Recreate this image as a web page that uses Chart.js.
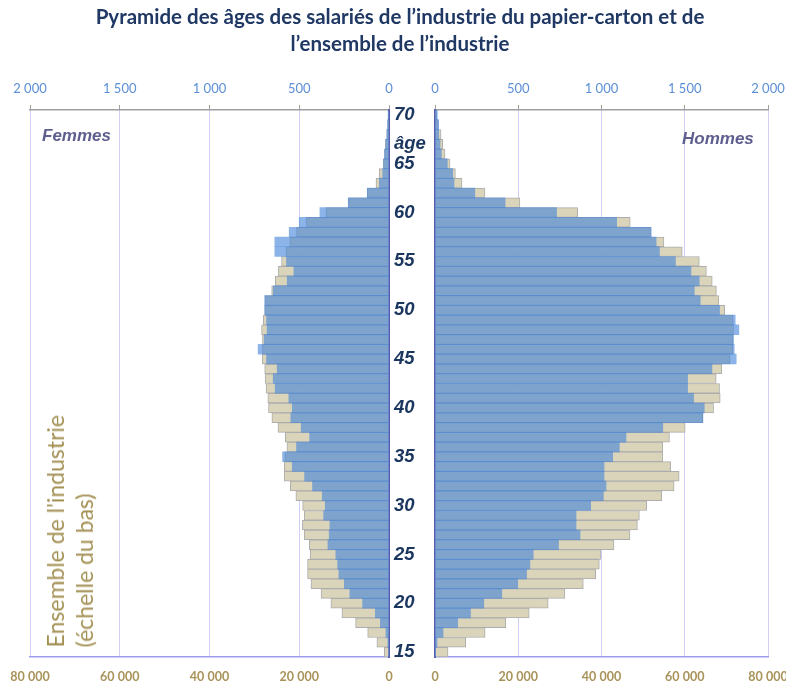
<!DOCTYPE html>
<html><head><meta charset="utf-8">
<script src="https://cdn.jsdelivr.net/npm/chart.js@4.4.1/dist/chart.umd.min.js"></script>
<style>
html,body{margin:0;padding:0;background:#fff;}
#wrap{position:relative;width:786px;height:683px;overflow:hidden;}
#title{position:absolute;left:0;top:3px;width:800px;text-align:center;font:bold 20.5px Lato, sans-serif;color:#1f3864;line-height:27px;z-index:3;}
canvas{position:absolute;top:0;}
#cl{left:0;}
#cr{left:400px;}
.sex{position:absolute;font:italic bold 17px 'Liberation Sans', Arial, sans-serif;color:#5f5f8f;line-height:17px;z-index:3;}
#ens{position:absolute;left:41px;bottom:36px;writing-mode:vertical-rl;transform:rotate(180deg);font:23px Lato, sans-serif;color:#a39053;line-height:29px;white-space:nowrap;z-index:3;}
</style></head>
<body>
<div id="wrap">
<div id="title">Pyramide des âges des salariés de l’industrie du papier-carton et de<br>l’ensemble de l’industrie</div>
<canvas id="cl" width="436" height="683"></canvas>
<canvas id="cr" width="400" height="683"></canvas>
<div class="sex" style="left:42px;top:127px;">Femmes</div>
<div class="sex" style="left:682px;top:130px;">Hommes</div>
<div id="ens">Ensemble de l'industrie<br>(échelle du bas)</div>
</div>
<script>
const ages = [70,69,68,67,66,65,64,63,62,61,60,59,58,57,56,55,54,53,52,51,50,49,48,47,46,45,44,43,42,41,40,39,38,37,36,35,34,33,32,31,30,29,28,27,26,25,24,23,22,21,20,19,18,17,16,15];
const femmesPapier = [5,8,12,18,25,30,35,54,121,227,385,500,556,636,636,571,530,567,645,692,692,682,679,695,729,682,623,645,634,558,539,547,489,442,515,593,539,470,426,372,355,364,329,333,340,296,286,279,249,218,147,76,48,17,6,3];
const femmesIndustrie = [100,300,500,800,1000,1300,2150,2900,4850,9050,14050,18500,20600,22100,22950,23950,24650,25350,26150,27650,27700,28000,28400,28200,28200,28250,27700,27600,27400,27000,26850,26100,24750,23100,22750,23200,23350,23350,22000,20750,19250,18900,19300,18900,17750,17550,18150,18150,17400,15150,12950,10500,7450,4750,2700,1050];
const hommesPapier = [14,22,22,30,38,74,106,114,239,421,730,1091,1298,1328,1348,1444,1537,1587,1557,1593,1709,1803,1825,1793,1797,1809,1663,1517,1517,1553,1617,1609,1368,1147,1107,1067,1015,1015,1027,1011,935,847,847,871,742,590,570,550,497,401,293,213,136,48,12,4];
const hommesIndustrie = [400,800,1440,1840,2400,3600,4900,6500,12000,20400,34300,46900,51900,55000,59400,63500,65200,66600,67600,68200,69600,71600,71700,71600,71500,70900,68900,67560,68360,68520,66920,64300,60100,56330,54720,54720,56650,58660,57450,54480,50870,49100,48630,46860,43010,39880,39480,38600,35630,31210,27200,22630,17010,12040,7380,3130];
const ticksPapier = [0,500,1000,1500,2000];
const ticksIndustrie = [0,20000,40000,60000,80000];
const ageLabelsShown = [70,65,60,55,50,45,40,35,30,25,20,15];
const ageWordAt = 67;

const fmt = v => String(v).replace(/\B(?=(\d{3})+(?!\d))/g, ' ');
const BLUE = 'rgba(70,134,218,0.62)';
const BEIGE = '#d9d4ba';
const BEIGE_BORDER = '#adadad';

function makeChart(id, papier, industrie, left) {
  const ds = [
    {data: papier, xAxisID: 'x2', backgroundColor: BLUE, borderWidth: 0, grouped: false, order: 0,
     barPercentage: 1, categoryPercentage: 1},
    {data: industrie, xAxisID: 'x', backgroundColor: BEIGE, borderColor: BEIGE_BORDER, borderWidth: 1, grouped: false, order: 1,
     barPercentage: 1, categoryPercentage: 1}
  ];
  return new Chart(document.getElementById(id), {
    type: 'bar',
    data: {labels: ages, datasets: ds},
    options: {
      indexAxis: 'y', responsive: false, animation: false,
      layout: {padding: left ? {left: 30, right: 0, top: 70, bottom: 0} : {left: 35, right: 32, top: 70, bottom: 0}},
      plugins: {legend: {display: false}, tooltip: {enabled: false}, title: {display: false}},
      scales: {
        x: {type: 'linear', position: 'bottom', reverse: left, min: 0, max: 80000,
            afterBuildTicks: s => { s.ticks = ticksIndustrie.map(v => ({value: v})); },
            ticks: {callback: v => fmt(v), color: '#a8935a', font: {family: 'Lato', weight: 'bold', size: 12.5}, padding: 12, maxRotation: 0, autoSkip: false},
            grid: {color: '#d0d0f7', lineWidth: 1, drawTicks: false},
            border: {color: '#9c9cee', width: 1.5},
            afterFit: s => { s.height = 26; }},
        x2: {type: 'linear', position: 'top', reverse: left, min: 0, max: 2000,
            afterBuildTicks: s => { s.ticks = ticksPapier.map(v => ({value: v})); },
            ticks: {callback: v => fmt(v), color: '#5b8fd6', font: {family: 'Lato', size: 13}, padding: 8, maxRotation: 0, autoSkip: false},
            grid: {drawOnChartArea: false, color: '#a0a0a0', tickLength: 5},
            border: {color: '#a0a0a0', width: 1.5},
            afterFit: s => { s.height = 40; }},
        y: {type: 'category', position: left ? 'right' : 'left',
            grid: {display: false, drawTicks: false},
            border: {color: '#5a5cb0', width: 2},
            ticks: {display: left, autoSkip: false, padding: 5, color: '#1b365f',
                    font: {family: 'Liberation Sans', style: 'italic', weight: 'bold', size: 18.5},
                    callback: (v, i) => { const a = ages[i]; return ageLabelsShown.includes(a) ? String(a) : (a === ageWordAt ? 'âge' : ''); }},
            afterFit: s => { s.width = left ? 47 : 0; }}
      }
    }
  });
}
makeChart('cl', femmesPapier, femmesIndustrie, true);
makeChart('cr', hommesPapier, hommesIndustrie, false);
</script>
</body></html>
